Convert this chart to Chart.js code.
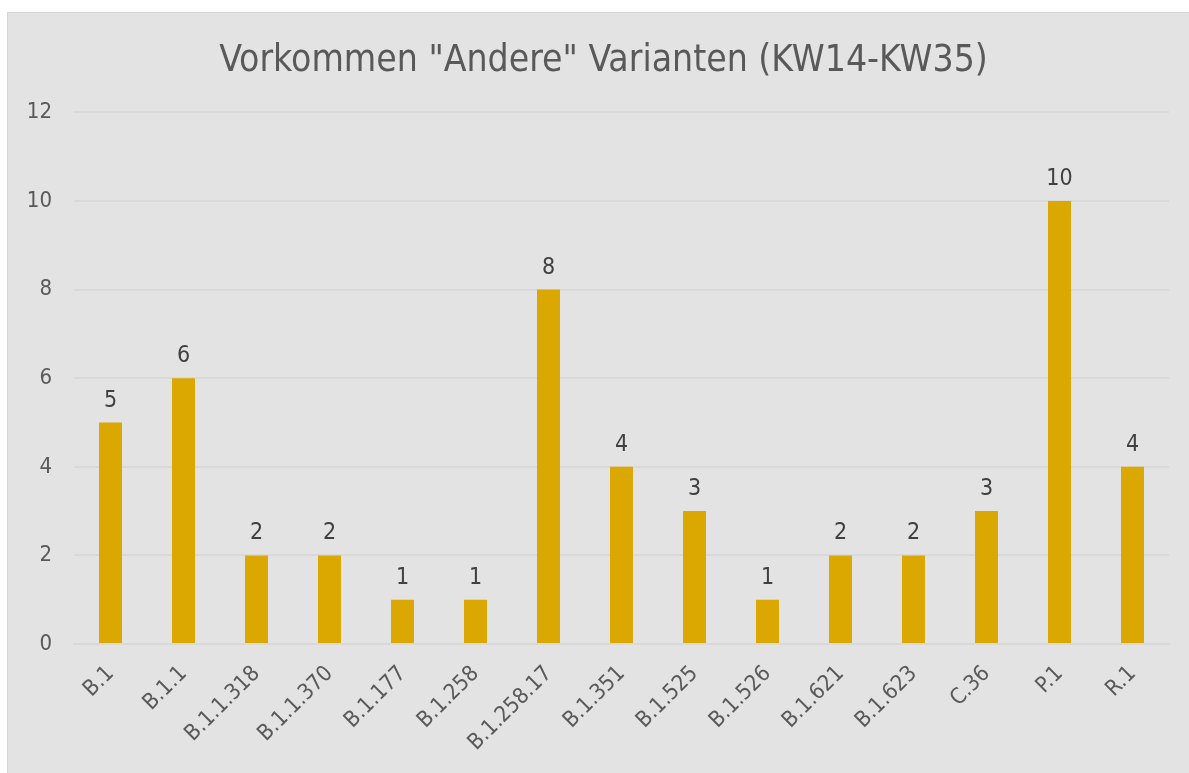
<!DOCTYPE html>
<html>
<head>
<meta charset="utf-8">
<script src="https://cdn.jsdelivr.net/npm/chart.js@4/dist/chart.umd.min.js"></script>
<style>
html,body{margin:0;padding:0;background:#ffffff;width:1189px;height:773px;overflow:hidden;}
#panel{position:absolute;left:7px;top:12px;width:1181px;height:760px;background:#e3e3e3;border-left:1px solid #d6d6d6;border-top:1px solid #d6d6d6;}
#c{display:block;}
</style>
</head>
<body>
<div id="panel"><canvas id="c" width="1181" height="760"></canvas></div>
<script>
const categories = ["B.1","B.1.1","B.1.1.318","B.1.1.370","B.1.177","B.1.258","B.1.258.17","B.1.351","B.1.525","B.1.526","B.1.621","B.1.623","C.36","P.1","R.1"];
const counts = [5,6,2,2,1,1,8,4,3,1,2,2,3,10,4];
const yTicks = [0,2,4,6,8,10,12];
const chartTitle = 'Vorkommen "Andere" Varianten (KW14-KW35)';

const FONT = '"DejaVu Sans Condensed", "DejaVu Sans", sans-serif';

const dataLabels = {
  id: 'dataLabels',
  afterDatasetsDraw(chart) {
    const ctx = chart.ctx;
    const meta = chart.getDatasetMeta(0);
    ctx.save();
    ctx.font = '23px ' + FONT;
    ctx.fillStyle = '#404040';
    ctx.textAlign = 'center';
    ctx.textBaseline = 'alphabetic';
    meta.data.forEach((bar, i) => {
      ctx.fillText(String(chart.data.datasets[0].data[i]), bar.x, bar.y - 16);
    });
    ctx.restore();
  }
};

const titleShift = {
  id: 'titleShift',
  afterLayout(chart) {
    const t = chart.titleBlock;
    if (t) { t.left += 15; t.right += 15; }
  }
};

new Chart(document.getElementById('c'), {
  type: 'bar',
  data: {
    labels: categories,
    datasets: [{
      data: counts,
      backgroundColor: '#daa800',
      borderWidth: 0,
      barPercentage: 0.315,
      categoryPercentage: 1.0
    }]
  },
  options: {
    responsive: false,
    animation: false,
    devicePixelRatio: 1,
    layout: { padding: { left: 0, right: 20, top: 0, bottom: 0 } },
    plugins: {
      legend: { display: false },
      tooltip: { enabled: false },
      title: {
        display: true,
        text: chartTitle,
        color: '#595959',
        font: { family: FONT, size: 37, weight: 'normal' },
        padding: { top: 26, bottom: 29 }
      }
    },
    scales: {
      x: {
        grid: { display: false, drawTicks: false },
        border: { display: true, color: '#d9d9d9', width: 2 },
        ticks: {
          color: '#595959',
          font: { family: FONT, size: 22 },
          maxRotation: 45,
          minRotation: 45,
          autoSkip: false,
          padding: 17
        },
        afterFit(scale) { scale.height = 129; }
      },
      y: {
        min: 0,
        max: 12,
        afterBuildTicks(scale) { scale.ticks = yTicks.map(v => ({ value: v })); },
        grid: { color: '#d9d9d9', lineWidth: 2, drawTicks: false },
        border: { display: false },
        ticks: {
          color: '#595959',
          font: { family: FONT, size: 22 },
          padding: 22
        },
        afterFit(scale) { scale.width = 66; }
      }
    }
  },
  plugins: [dataLabels, titleShift]
});
</script>
</body>
</html>
